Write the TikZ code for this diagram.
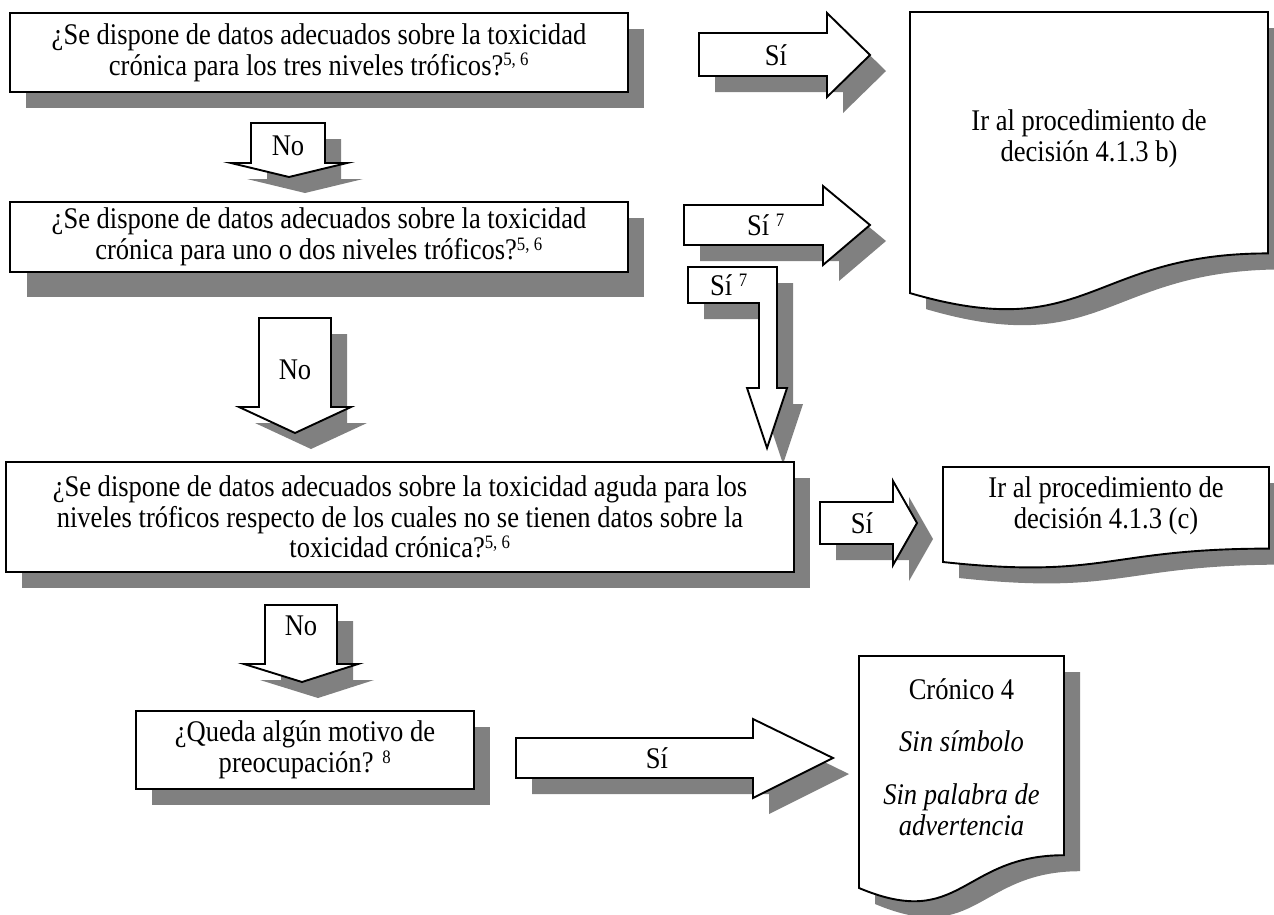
\documentclass[tikz,border=0pt]{standalone}
\usepackage{fontspec}
\setmainfont{Liberation Serif}[FakeStretch=0.885]
\newcommand\fs{\fontsize{30}{30.6}\selectfont}
\newcommand\upnum[1]{\textsuperscript{\fontsize{19}{19}\selectfont #1}}
\definecolor{shd}{RGB}{128,128,128}
\tikzset{
  shape line/.style={draw=black, line width=1.9pt, fill=white, line join=miter},
  shadowed/.style={preaction={fill=shd, draw=none, transform canvas={shift={(16,16)}}}},
  plainbox/.style={shape line, rectangle, inner sep=0pt, align=center, font=\fs},
  box/.style={plainbox, shadowed},
  lbl/.style={inner sep=0pt, font=\fs, align=center},
}
\begin{document}
\begin{tikzpicture}[x=1pt,y=-1pt]
\useasboundingbox (0,0) rectangle (1274,914);

% ---------- question 1
\node[box, minimum width=618pt, minimum height=79pt] (q1) at (319,52.5)
  {¿Se dispone de datos adecuados sobre la toxicidad\\crónica para los tres niveles tróficos?\upnum{5, 6}};

% Si arrow 1
\draw[shape line, shadowed] (699,33) -- (827,33) -- (827,13) -- (870,55) -- (827,97) -- (827,76) -- (699,76) -- cycle;
\node[lbl] (si1) at (776,55) {Sí};

% document b)
\draw[shape line, shadowed] (910,12) -- (1268,12) -- (1268,253.4)
  .. controls (1089,253.4) and (1089,345.4) .. (910,293.1) -- cycle;
\node[lbl] (docb) at (1089,139) {Ir al procedimiento de\\decisión 4.1.3 b)};

% No arrow 1
\draw[shape line, shadowed] (251,123) -- (325,123) -- (325,163) -- (347,163) -- (289,177) -- (231,163) -- (251,163) -- cycle;
\node[lbl] (no1) at (288,146) {No};

% ---------- question 2
\fill[shd] (27,218) rectangle (644,297);
\node[plainbox, minimum width=618pt, minimum height=70pt] (q2) at (319,237)
  {¿Se dispone de datos adecuados sobre la toxicidad\\crónica para uno o dos niveles tróficos?\upnum{5, 6}};

% Si 7 arrow 2
\draw[shape line, shadowed] (684,205) -- (823,205) -- (823,186) -- (870,225) -- (823,265) -- (823,245) -- (684,245) -- cycle;
\node[lbl] (si2) at (766,225) {Sí \upnum{7}};

% L-shaped Si 7 arrow
\draw[shape line, shadowed] (688,267) -- (777,267) -- (777,388) -- (787,388) -- (767,448) -- (747,388) -- (759,388) -- (759,303) -- (688,303) -- cycle;
\node[lbl] (si3) at (729,285) {Sí \upnum{7}};

% No arrow 2
\draw[shape line, shadowed] (259,318) -- (331,318) -- (331,407) -- (351,407) -- (295,433) -- (239,407) -- (259,407) -- cycle;
\node[lbl] (no2) at (295,370) {No};

% ---------- question 3
\node[box, minimum width=788pt, minimum height=110pt] (q3) at (400,517)
  {¿Se dispone de datos adecuados sobre la toxicidad aguda para los\\niveles tróficos respecto de los cuales no se tienen datos sobre la\\toxicidad crónica?\upnum{5, 6}};

% Si arrow 3
\draw[shape line, shadowed] (820,502) -- (893,502) -- (893,481) -- (917,523) -- (893,565) -- (893,544) -- (820,544) -- cycle;
\node[lbl] (si4) at (862,523) {Sí};

% document c)
\draw[shape line, shadowed] (943,467) -- (1269,467) -- (1269,548.6)
  .. controls (1106,548.6) and (1106,579.6) .. (943,562) -- cycle;
\node[lbl] (docc) at (1106,506) {Ir al procedimiento de\\decisión 4.1.3 (c)};

% No arrow 3
\draw[shape line, shadowed] (265,605) -- (337,605) -- (337,664) -- (358,664) -- (302,682) -- (244,664) -- (265,664) -- cycle;
\node[lbl] (no3) at (301,626) {No};

% ---------- question 4
\node[box, minimum width=338pt, minimum height=78pt] (q4) at (305,750)
  {¿Queda algún motivo de\\preocupación? \upnum{8}};

% Si arrow 4
\draw[shape line, shadowed] (516,738) -- (753,738) -- (753,719) -- (833,758) -- (753,798) -- (753,778) -- (516,778) -- cycle;
\node[lbl] (si5) at (657,758) {Sí};

% document Cronico 4
\draw[shape line, shadowed] (859,656) -- (1064,656) -- (1064,855.2)
  .. controls (961.5,855.2) and (961.5,931.1) .. (859,888) -- cycle;
\node[lbl] (cron) at (961.5,757) {Crónico 4\\[22pt]\textit{Sin símbolo}\\[22pt]\textit{Sin palabra de}\\\textit{advertencia}};

\end{tikzpicture}
\end{document}
